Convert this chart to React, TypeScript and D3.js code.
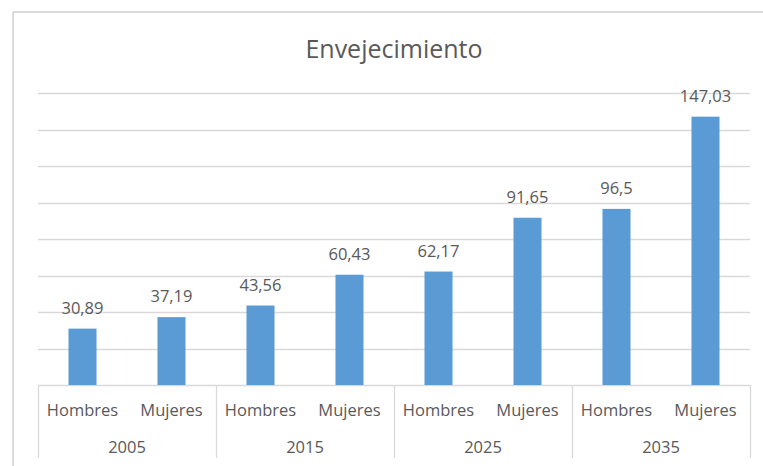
import React from "react";
import * as d3 from "d3";

const years = ["2005", "2015", "2025", "2035"];
const sexes = ["Hombres", "Mujeres"];
const hombres = [30.89, 43.56, 62.17, 96.5];
const mujeres = [37.19, 60.43, 91.65, 147.03];
const yTicks = [0, 20, 40, 60, 80, 100, 120, 140, 160];
const title = "Envejecimiento";

const W = 763;
const H = 466;
const FONT = "'Open Sans', 'Noto Sans', sans-serif";
const TXT = "#595959";
const GRID = "#d9d9d9";
const BAR = "#5B9BD5";

export default function App() {
  const left = 38;
  const right = 750;
  const base = 385;
  const top = 93;

  const rows = years.flatMap((yr, i) => [
    { key: yr + "-" + sexes[0], year: yr, sex: sexes[0], value: hombres[i] },
    { key: yr + "-" + sexes[1], year: yr, sex: sexes[1], value: mujeres[i] },
  ]);

  const xGroup = d3.scaleBand<string>().domain(years).range([left, right]).padding(0);
  const x = d3
    .scaleBand<string>()
    .domain(rows.map((r) => r.key))
    .range([left, right])
    .paddingInner(0.685)
    .paddingOuter(0.685 / 2);
  const y = d3.scaleLinear().domain([0, 160]).range([base, top]);

  const fmt = (v: number) => String(v).replace(".", ",");

  return (
    <svg
      width={W}
      height={H}
      style={{ position: "absolute", left: 0, top: 0, background: "#ffffff" }}
    >
      <rect x={0} y={0} width={W} height={H} fill="#ffffff" />
      {/* frame */}
      <line x1={13} y1={12} x2={W} y2={12} stroke="#cfcfcf" strokeWidth={1.5} />
      <line x1={13} y1={12} x2={13} y2={H} stroke="#cfcfcf" strokeWidth={1.5} />

      <text
        x={394}
        y={58}
        textAnchor="middle"
        fontFamily={FONT}
        fontSize={25}
        fill={TXT}
      >
        {title}
      </text>

      {/* gridlines */}
      {yTicks.map((t) => (
        <line
          key={t}
          x1={left}
          x2={right}
          y1={Math.round(y(t)) + 0.5}
          y2={Math.round(y(t)) + 0.5}
          stroke={GRID}
          strokeWidth={1.3}
        />
      ))}

      {/* bars */}
      {rows.map((r) => (
        <rect
          key={r.key}
          x={x(r.key)}
          y={y(r.value)}
          width={x.bandwidth()}
          height={base - y(r.value)}
          fill={BAR}
        />
      ))}

      {/* data labels */}
      {rows.map((r) => (
        <text
          key={"l" + r.key}
          x={(x(r.key) as number) + x.bandwidth() / 2}
          y={y(r.value) - 15}
          textAnchor="middle"
          fontFamily={FONT}
          fontSize={16.5}
          fill={TXT}
        >
          {fmt(r.value)}
        </text>
      ))}

      {/* category axis dividers */}
      {[...years.map((yr) => xGroup(yr) as number), right].map((xx, i) => (
        <line
          key={"d" + i}
          x1={Math.round(xx) + 0.5}
          x2={Math.round(xx) + 0.5}
          y1={base}
          y2={458}
          stroke={GRID}
          strokeWidth={1.3}
        />
      ))}

      {/* sex labels */}
      {rows.map((r) => (
        <text
          key={"s" + r.key}
          x={(x(r.key) as number) + x.bandwidth() / 2}
          y={416}
          textAnchor="middle"
          fontFamily={FONT}
          fontSize={16.5}
          fill={TXT}
        >
          {r.sex}
        </text>
      ))}

      {/* year labels */}
      {years.map((yr) => (
        <text
          key={"y" + yr}
          x={(xGroup(yr) as number) + xGroup.bandwidth() / 2}
          y={453}
          textAnchor="middle"
          fontFamily={FONT}
          fontSize={16.5}
          fill={TXT}
        >
          {yr}
        </text>
      ))}
    </svg>
  );
}
